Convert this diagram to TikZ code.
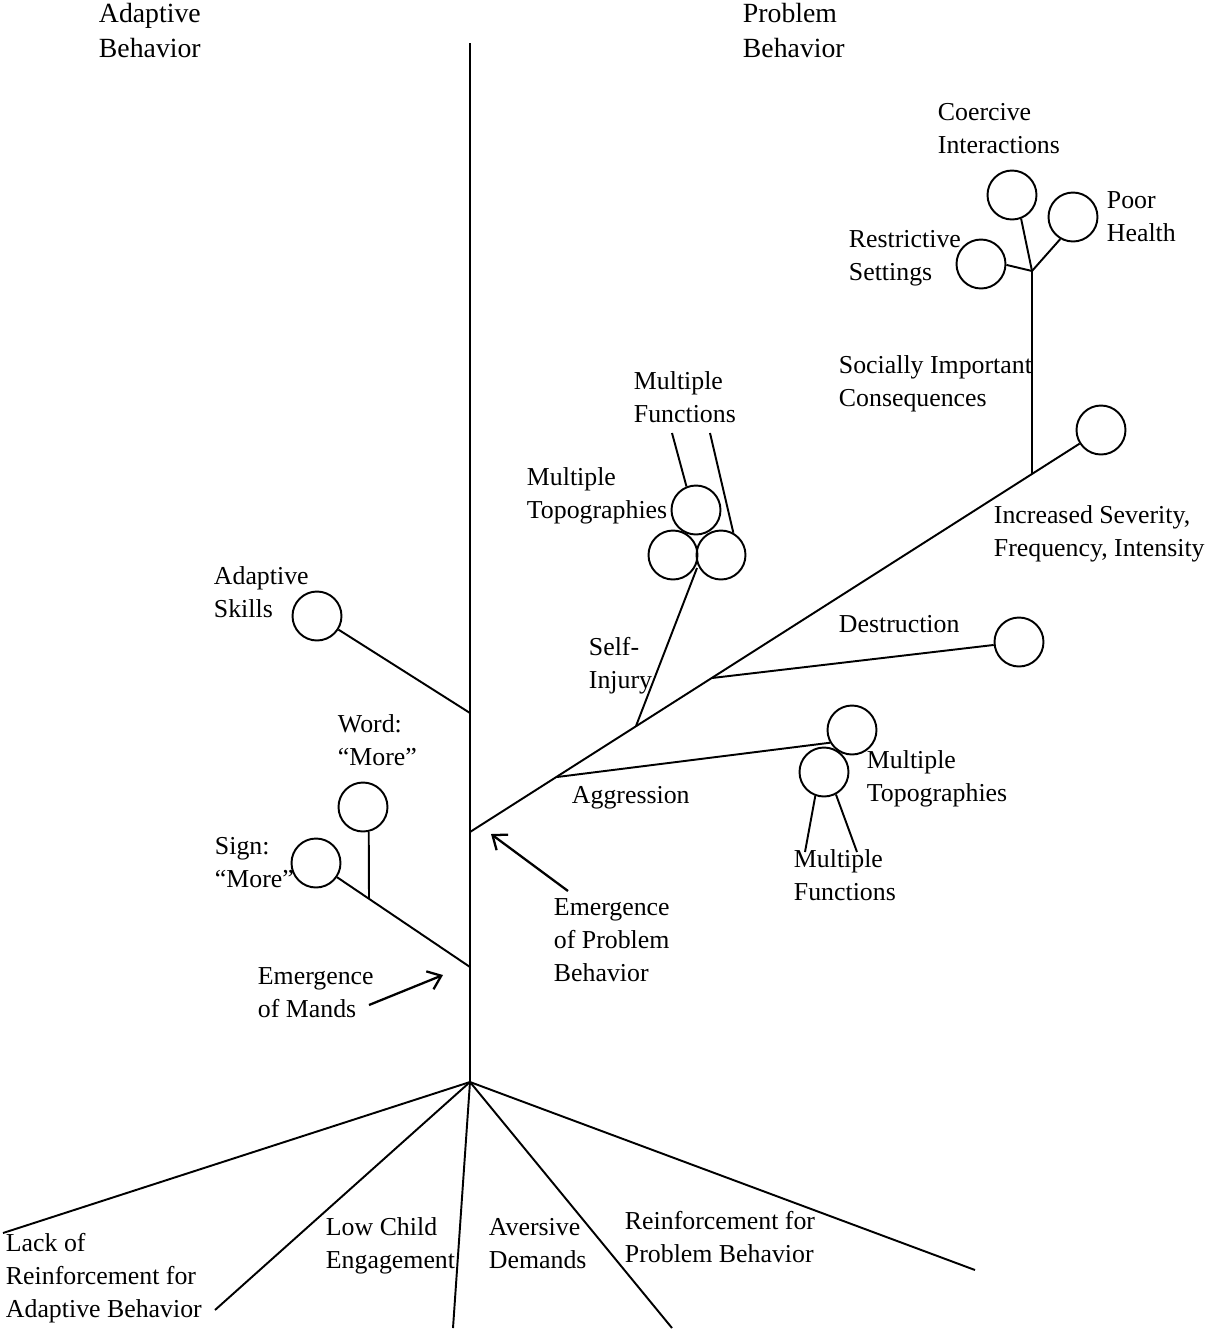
\documentclass[tikz,border=0pt]{standalone}
\usepackage{fontspec}
\setmainfont{Liberation Serif}
\usetikzlibrary{arrows.meta}

\begin{document}
\begin{tikzpicture}[x=0.02cm,y=-0.02cm,line width=1.1pt,
    bud/.style={draw,circle,minimum size=0.98cm,inner sep=0pt},
    lbl/.style={anchor=base west,align=left,inner sep=0pt,font=\fontsize{14.7}{18.7}\selectfont},
    head/.style={lbl,font=\fontsize{15.8}{19.9}\selectfont},
    pointer/.style={-{Straight Barb[length=7pt,width=11pt]},line width=1.3pt}]
  \useasboundingbox (0,0) rectangle (1208,1330);
  % trunk and roots
  \coordinate (top) at (470,43);
  \coordinate (root) at (470,1082);
  \coordinate (skill) at (470,713);
  \coordinate (pb) at (470,832);
  \coordinate (mand) at (470,967);
  \draw (top) -- (root);
  \coordinate (r1) at (3,1233);
  \coordinate (r2) at (215,1310);
  \coordinate (r3) at (453,1328);
  \coordinate (r4) at (672,1328);
  \coordinate (r5) at (975,1270);
  \foreach \i in {1,...,5} \draw (root) -- (r\i);
  % adaptive side
  \node[bud] (skills) at (317,616) {};
  \draw (skill) -- (skills);
  \node[bud] (sign) at (316,863) {};
  \node[bud] (word) at (363,807) {};
  \coordinate (wordfork) at (369,898);
  \draw (mand) -- (sign);
  \draw (word.283) -- (wordfork);
  % problem side
  \coordinate (fa) at (557,777);
  \coordinate (fs) at (636,726);
  \coordinate (fd) at (712,678);
  \coordinate (fc) at (1032,474);
  \coordinate (fj) at (1032,271);
  \node[bud] (sev) at (1101,430) {};
  \draw (pb) -- (sev);
  \node[bud] (ag1) at (852,730) {};
  \node[bud] (ag2) at (824,772) {};
  \coordinate (agf1) at (805,852);
  \coordinate (agf2) at (857,852);
  \draw (fa) -- (ag1.210);
  \draw (ag2.250) -- (agf1);
  \draw (ag2.298) -- (agf2);
  \node[bud] (si1) at (696,510) {};
  \node[bud] (si2) at (673,555) {};
  \node[bud] (si3) at (721,555) {};
  \coordinate (sitip) at (697,568);
  \coordinate (sif1) at (672,433);
  \coordinate (sif2) at (710,433);
  \draw (fs) -- (sitip);
  \draw (sif1) -- (si1.112);
  \draw (sif2) -- (si3.61);
  \node[bud] (des) at (1019,642) {};
  \draw (fd) -- (des);
  \node[bud] (coer) at (1012,195) {};
  \node[bud] (poor) at (1073,217) {};
  \node[bud] (restr) at (981,264) {};
  \draw (fc) -- (fj);
  \draw (fj) -- (coer.291);
  \draw (fj) -- (poor.240);
  \draw (fj) -- (restr.358);
  % arrows
  \coordinate (mandtail) at (369,1005);
  \coordinate (mandhead) at (443,975);
  \coordinate (pbtail) at (568,891);
  \coordinate (pbhead) at (491,834);
  \draw[pointer] (mandtail) -- (mandhead);
  \draw[pointer] (pbtail) -- (pbhead);
  % labels (placed at baseline of last line)
  \node[head] (adb) at (98,57) {Adaptive\\Behavior};
  \node[head] (prb) at (742,57) {Problem\\Behavior};
  \node[lbl] (coerl) at (937,153) {Coercive\\Interactions};
  \node[lbl] (poorl) at (1106,241) {Poor\\Health};
  \node[lbl] (restrl) at (848,280) {Restrictive\\Settings};
  \node[lbl] (conl) at (838,406) {Socially Important\\Consequences};
  \node[lbl] (sevl) at (993,556) {Increased Severity,\\Frequency, Intensity};
  \node[lbl] (mfl) at (633,422) {Multiple\\Functions};
  \node[lbl] (mtl) at (526,518) {Multiple\\Topographies};
  \node[lbl] (skl) at (213,617) {Adaptive\\Skills};
  \node[lbl] (sil) at (588,688) {Self-\\Injury};
  \node[lbl] (desl) at (838,632) {Destruction};
  \node[lbl] (wordl) at (337,765) {Word:\\“More”};
  \node[lbl] (signl) at (214,887) {Sign:\\“More”};
  \node[lbl] (agl) at (571,803) {Aggression};
  \node[lbl] (mt2l) at (866,801) {Multiple\\Topographies};
  \node[lbl] (mf2l) at (793,900) {Multiple\\Functions};
  \node[lbl] (pbl) at (553,981) {Emergence\\of Problem\\Behavior};
  \node[lbl] (mandl) at (257,1017) {Emergence\\of Mands};
  \node[lbl] (lackl) at (5,1317) {Lack of\\Reinforcement for\\Adaptive Behavior};
  \node[lbl] (lowl) at (325,1268) {Low Child\\Engagement};
  \node[lbl] (avl) at (488,1268) {Aversive\\Demands};
  \node[lbl] (rpl) at (624,1262) {Reinforcement for\\Problem Behavior};
\end{tikzpicture}
\end{document}
